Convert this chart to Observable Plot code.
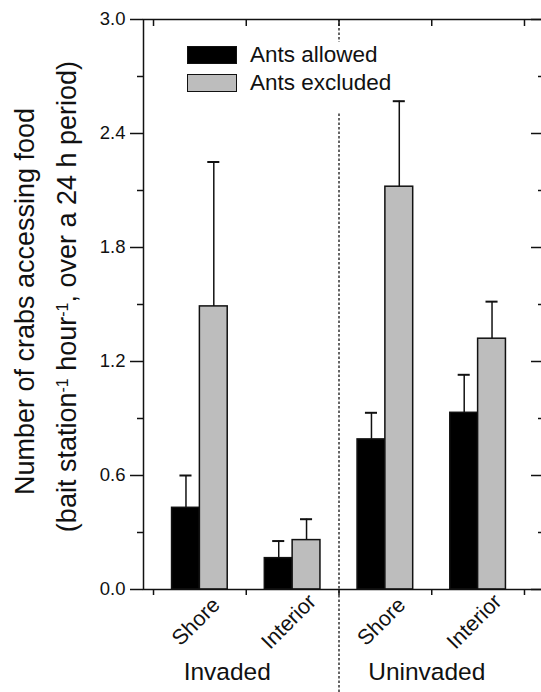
<!DOCTYPE html>
<html><head><meta charset="utf-8">
<script src="https://cdn.jsdelivr.net/npm/d3@7"></script>
<script src="https://cdn.jsdelivr.net/npm/@observablehq/plot@0.6"></script>
<style>
body{margin:0;background:#fff;font-family:"Liberation Sans",Arial,sans-serif;overflow:hidden;}
#wrap{position:relative;width:541px;height:692px;overflow:hidden;}
#chart svg{max-width:none !important;width:548px !important;height:692px !important;display:block;}
#legend{position:absolute;left:180px;top:42px;width:208px;height:70px;background:#fff;}
.sw{position:absolute;left:7px;width:50px;height:18px;box-sizing:border-box;border:1.5px solid #111;}
.lt{position:absolute;left:70px;font-size:22.5px;line-height:1;color:#111;white-space:nowrap;}
</style></head>
<body><div id="wrap"><div id="chart"></div><div id="legend"></div></div>
<script>
// ---- data ----
const sites = ["Shore", "Interior", "Shore", "Interior"];
const status = ["Invaded", "Invaded", "Uninvaded", "Uninvaded"];
const allowedMean = [0.43, 0.165, 0.79, 0.93];
const allowedSE = [0.17, 0.09, 0.14, 0.20];
const excludedMean = [1.49, 0.26, 2.12, 1.32];
const excludedSE = [0.76, 0.11, 0.45, 0.195];
const treatments = ["Ants allowed", "Ants excluded"];
const treatmentColors = ["#000000", "#bdbdbd"];
const yMajor = [0, 0.6, 1.2, 1.8, 2.4, 3.0];
const yMinor = [0.3, 0.9, 1.5, 2.1, 2.7];
const xTicks = [0, 1, 2, 3, 4];
const groupLabels = ["Invaded", "Uninvaded"];
const yTitle1 = "Number of crabs accessing food";
const yTitle2 = "(bait station-1 hour-1, over a 24 h period)";

// ---- build table ----
const barW = 0.3, capW = 0.065;
const rows = [];
sites.forEach((s, i) => {
  const pos = i + 0.5;
  [[allowedMean, allowedSE], [excludedMean, excludedSE]].forEach(([m, se], t) => {
    const x1 = pos - barW + t * barW, x2 = x1 + barW, cx = (x1 + x2) / 2;
    rows.push({site: s, status: status[i], treatment: treatments[t], mean: m[i], upper: m[i] + se[i],
      x1, x2, cx, c1: cx - capW, c2: cx + capW});
  });
});
const siteRows = sites.map((s, i) => ({site: s, pos: i + 0.5}));
const groupRows = groupLabels.map(g => {
  const idx = status.map((s, i) => s === g ? i + 0.5 : null).filter(v => v !== null);
  return {label: g, center: d3.mean(idx)};
});

const font = "Liberation Sans, Arial, sans-serif";
const ink = "#111";
const noText = () => "";

const chart = Plot.plot({
  width: 548, height: 692,
  marginLeft: 143, marginRight: 5, marginTop: 19, marginBottom: 103,
  x: {domain: [-0.108, 4.205], axis: null},
  y: {domain: [0, 3], axis: null},
  color: {domain: treatments, range: treatmentColors},
  style: {fontFamily: font, color: ink, background: "#fff", overflow: "visible"},
  marks: [
    Plot.ruleX([2], {x: d => d, stroke: "#333", strokeWidth: 1.5, strokeDasharray: "2.5,2", insetBottom: -103}),
    Plot.rect(rows, {x1: "x1", x2: "x2", y1: 0, y2: "mean", fill: "treatment", stroke: ink, strokeWidth: 1.5}),
    Plot.ruleX(rows, {x: "cx", y1: "mean", y2: "upper", stroke: ink, strokeWidth: 1.5}),
    Plot.ruleY(rows, {y: "upper", x1: "c1", x2: "c2", stroke: ink, strokeWidth: 2}),
    Plot.frame({stroke: ink, strokeWidth: 1.5}),
    Plot.axisY({ticks: yMajor, tickSize: 13, tickPadding: 5, tickFormat: d3.format(".1f"), fontSize: 18.5, label: null, strokeWidth: 1.5}),
    Plot.axisY({ticks: yMinor, tickSize: 6, tickFormat: noText, label: null, strokeWidth: 1.5}),
    Plot.axisY({anchor: "right", ticks: yMajor, tickSize: -13, tickFormat: noText, label: null, strokeWidth: 1.5}),
    Plot.axisY({anchor: "right", ticks: yMinor, tickSize: -6, tickFormat: noText, label: null, strokeWidth: 1.5}),
    Plot.axisX({anchor: "bottom", ticks: xTicks, tickSize: 6, tickFormat: noText, label: null, strokeWidth: 1.5}),
    Plot.axisX({anchor: "top", ticks: xTicks, tickSize: -6, tickFormat: noText, label: null, strokeWidth: 1.5}),
    Plot.text(siteRows, {x: "pos", text: "site", frameAnchor: "bottom", textAnchor: "middle", rotate: -45, dx: 1, dy: 37, fontSize: 21.5, fill: ink}),
    Plot.text(groupRows.slice(0, 1), {x: "center", text: "label", frameAnchor: "bottom", textAnchor: "middle", dx: -19, dy: 90, fontSize: 24.5, fill: ink}),
    Plot.text(groupRows.slice(1), {x: "center", text: "label", frameAnchor: "bottom", textAnchor: "middle", dx: -5, dy: 90, fontSize: 24.5, fill: ink}),
    Plot.text([yTitle1], {text: d => d, frameAnchor: "left", textAnchor: "middle", rotate: -90, dx: -118, dy: -3, fontSize: 27, fill: ink}),
    Plot.text([yTitle2], {text: d => d, frameAnchor: "left", textAnchor: "middle", rotate: -90, dx: -76, dy: -8, fontSize: 27, fill: ink})
  ]
});

// superscripts in the second title line
d3.select(chart).selectAll("text").filter(function() { return this.textContent === yTitle2; }).each(function() {
  const t = d3.select(this);
  t.text(null);
  const parts = yTitle2.split("-1");
  parts.forEach((p, i) => {
    t.append("tspan").text(p);
    if (i < parts.length - 1) t.append("tspan").attr("baseline-shift", "super").attr("font-size", "16px").text("-1");
  });
});

document.getElementById("chart").appendChild(chart);

// legend
const legend = d3.select("#legend");
treatments.forEach((t, i) => {
  legend.append("div").attr("class", "sw").style("top", (4 + i * 28) + "px").style("background", treatmentColors[i]);
  legend.append("div").attr("class", "lt").style("top", (2 + i * 28) + "px").text(t);
});
</script>
</body></html>
